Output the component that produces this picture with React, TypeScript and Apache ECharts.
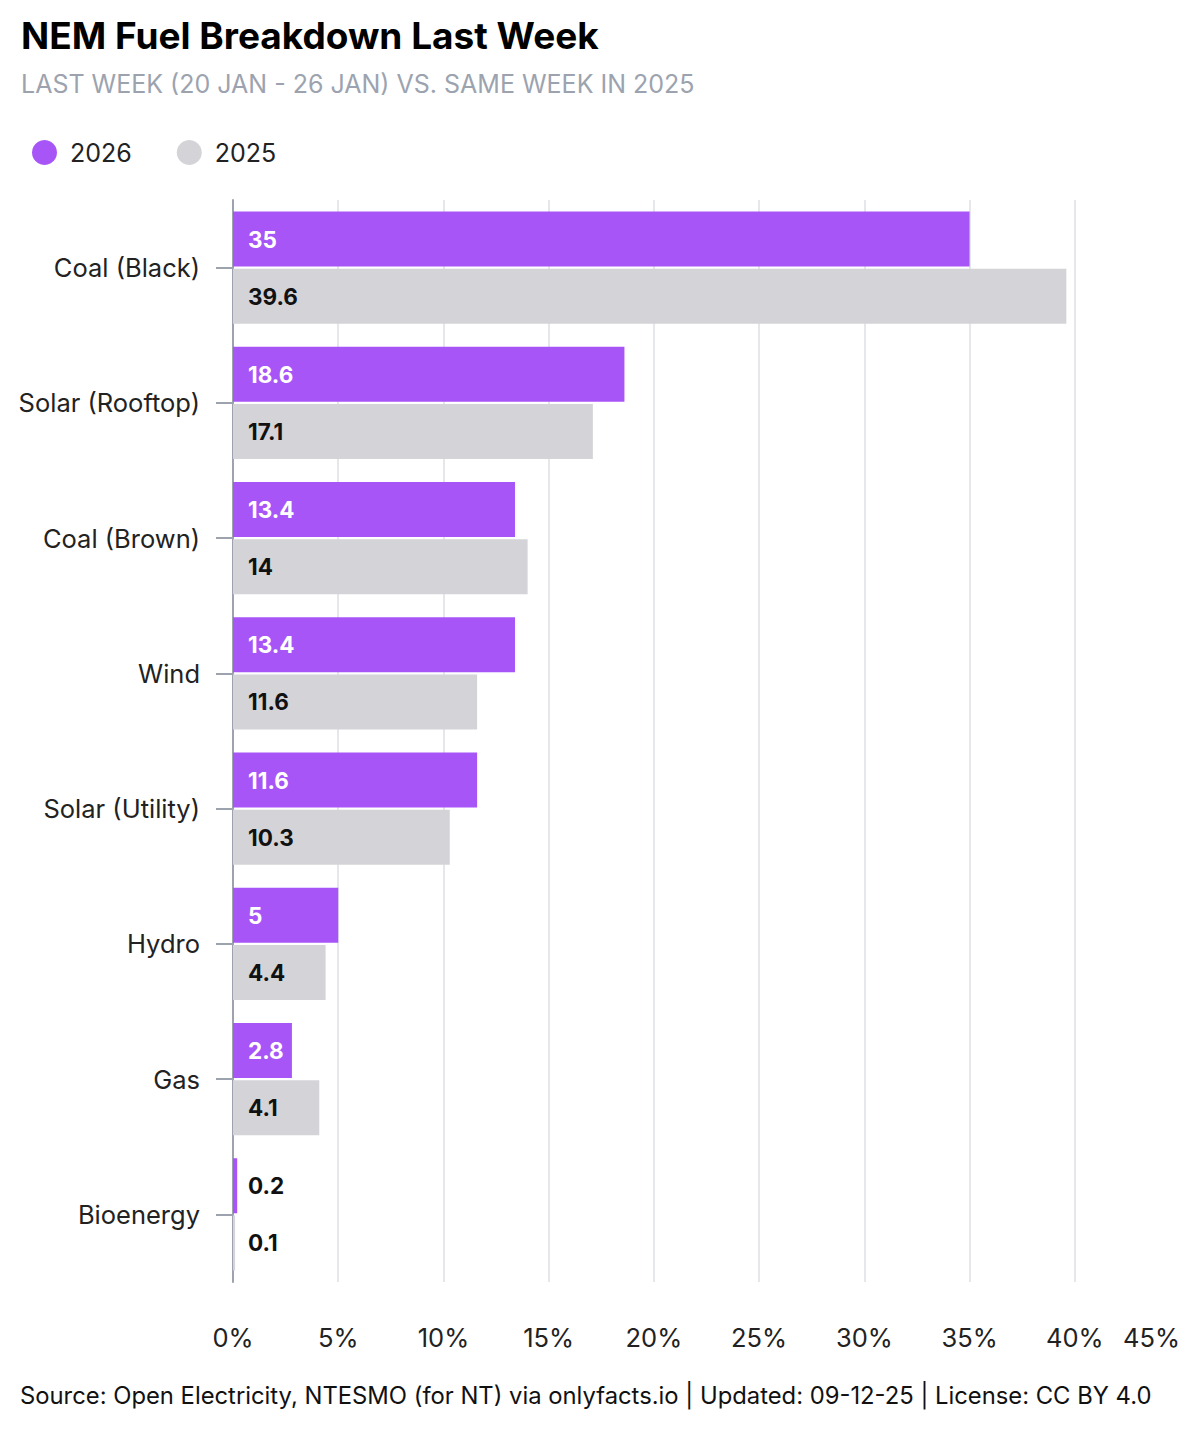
import React, { useEffect, useRef } from "react";
import * as echarts from "echarts";

const categories = [
  "Coal (Black)",
  "Solar (Rooftop)",
  "Coal (Brown)",
  "Wind",
  "Solar (Utility)",
  "Hydro",
  "Gas",
  "Bioenergy",
];
const values2026 = [35, 18.6, 13.4, 13.4, 11.6, 5, 2.8, 0.2];
const values2025 = [39.6, 17.1, 14, 11.6, 10.3, 4.4, 4.1, 0.1];
const seriesNames = ["2026", "2025"];
const xTicks = { min: 0, max: 45, interval: 5 };

const TITLE = "NEM Fuel Breakdown Last Week";
const SUBTITLE = "LAST WEEK (20 JAN - 26 JAN) VS. SAME WEEK IN 2025";
const SOURCE =
  "Source: Open Electricity, NTESMO (for NT) via onlyfacts.io | Updated: 09-12-25 | License: CC BY 4.0";

const PURPLE = "#a855f7";
const GREY = "#d4d4d8";
const FONT = "Inter, 'Noto Sans', sans-serif";

export default function App() {
  const ref = useRef<HTMLDivElement>(null);

  useEffect(() => {
    document.body.style.margin = "0";
    if (!ref.current) return;
    const chart = echarts.init(ref.current, undefined, { renderer: "svg" });

    const mkData = (vals: number[], insideColor: string) =>
      vals.map((v) => ({
        value: v,
        label: { color: v < 1 ? "#111111" : insideColor },
      }));

    const barLabel = {
      show: true,
      position: "insideLeft" as const,
      distance: 15,
      fontFamily: FONT,
      fontSize: 22.5,
      fontWeight: "bold" as const,
    };

    chart.setOption({
      animation: false,
      textStyle: { fontFamily: FONT },
      title: {
        text: TITLE,
        subtext: SUBTITLE,
        left: 16,
        top: 12,
        itemGap: 17,
        textStyle: { fontSize: 37, fontWeight: "bold", color: "#000000", fontFamily: FONT },
        subtextStyle: { fontSize: 25, color: "#9ca3af", fontFamily: FONT },
      },
      legend: {
        left: 27,
        top: 135,
        icon: "circle",
        itemWidth: 25,
        itemHeight: 25,
        itemGap: 45,
        textStyle: { fontSize: 25, color: "#222222", fontFamily: FONT, padding: [0, 0, 0, 8] },
        data: seriesNames,
      },
      grid: { left: 233, right: 20, top: 200, bottom: 158, containLabel: false },
      xAxis: {
        type: "value",
        min: xTicks.min,
        max: xTicks.max,
        interval: xTicks.interval,
        axisLine: { show: false },
        axisTick: { show: false },
        axisLabel: {
          formatter: "{value}%",
          fontSize: 25.5,
          color: "#222222",
          margin: 42,
          fontFamily: FONT,
          alignMaxLabel: "right",
        },
        splitLine: { show: true, showMaxLine: false, lineStyle: { color: "#e5e7eb", width: 2 } },
      },
      yAxis: {
        type: "category",
        inverse: true,
        data: categories,
        axisLine: { show: true, lineStyle: { color: "#9ca3af", width: 2 } },
        axisTick: { show: true, alignWithLabel: true, length: 17, lineStyle: { color: "#9ca3af", width: 2 } },
        axisLabel: { fontSize: 25.5, color: "#222222", margin: 33, fontFamily: FONT },
        splitLine: { show: false },
      },
      series: [
        {
          name: seriesNames[0],
          type: "bar",
          data: mkData(values2026, "#ffffff"),
          itemStyle: { color: PURPLE },
          barCategoryGap: "17%",
          barGap: "4%",
          label: barLabel,
        },
        {
          name: seriesNames[1],
          type: "bar",
          data: mkData(values2025, "#111111"),
          itemStyle: { color: GREY },
          barCategoryGap: "17%",
          barGap: "4%",
          label: barLabel,
        },
      ],
      graphic: [
        {
          type: "text",
          left: 20,
          top: 1383,
          style: { text: SOURCE, fontSize: 23.8, fill: "#111111", fontFamily: FONT },
        },
      ],
    });

    return () => chart.dispose();
  }, []);

  return <div ref={ref} style={{ width: 1200, height: 1440 }} />;
}
